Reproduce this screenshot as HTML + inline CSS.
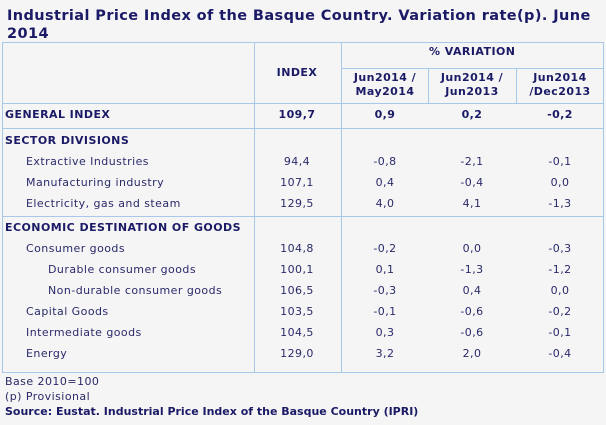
<!DOCTYPE html>
<html><head><meta charset="utf-8"><style>
body{margin:0;width:606px;height:425px;background:#f5f5f5;font-family:"DejaVu Sans","Liberation Sans",sans-serif;color:#2a2a6a;position:relative;overflow:hidden}
.t{position:absolute;font-size:11px;line-height:14px;white-space:nowrap;letter-spacing:0.45px}
.b{font-weight:bold;color:#1a1a66}
.c{text-align:center;width:86px;margin-left:-43px}
.hl{position:absolute;height:1px;background:#a8c8e8}
.vl{position:absolute;width:1px;background:#a8c8e8}
</style></head><body>
<div class="b" style="position:absolute;left:7px;top:7px;font-size:14.5px;letter-spacing:0.4px;line-height:18px;width:590px">Industrial Price Index of the Basque Country. Variation rate(p). June 2014</div>
<div style="position:absolute;left:2px;top:42px;width:600px;height:329px;border:1px solid #a8c8e8"></div>
<div class="vl" style="left:254px;top:43px;height:329px"></div>
<div class="vl" style="left:341px;top:43px;height:329px"></div>
<div class="vl" style="left:428px;top:68px;height:35px"></div>
<div class="vl" style="left:516px;top:68px;height:35px"></div>
<div class="hl" style="left:341px;top:68px;width:262px"></div>
<div class="hl" style="left:3px;top:103px;width:600px"></div>
<div class="hl" style="left:3px;top:128px;width:600px"></div>
<div class="hl" style="left:3px;top:216px;width:600px"></div>
<div id="rows"></div>
<div class="t" style="left:5px;top:375px">Base 2010=100</div>
<div class="t" style="left:5px;top:390px">(p) Provisional</div>
<div class="t b" style="left:5px;top:405px;letter-spacing:0">Source: Eustat. Industrial Price Index of the Basque Country (IPRI)</div>
<script>
const labels=["GENERAL INDEX","SECTOR DIVISIONS","Extractive Industries","Manufacturing industry","Electricity, gas and steam","ECONOMIC DESTINATION OF GOODS","Consumer goods","Durable consumer goods","Non-durable consumer goods","Capital Goods","Intermediate goods","Energy"];
const indent=[0,0,1,1,1,0,1,2,2,1,1,1];
const rowY=[115,141,162,183,204,228,249,270,291,312,333,354];
const indexVals=["109,7","","94,4","107,1","129,5","","104,8","100,1","106,5","103,5","104,5","129,0"];
const varMonth=["0,9","","-0,8","0,4","4,0","","-0,2","0,1","-0,3","-0,1","0,3","3,2"];
const varYear=["0,2","","-2,1","-0,4","4,1","","0,0","-1,3","0,4","-0,6","-0,6","2,0"];
const varDec=["-0,2","","-0,1","0,0","-1,3","","-0,3","-1,2","0,0","-0,2","-0,1","-0,4"];
const colX=[297,385,472,560];
const R=document.getElementById('rows');
function add(txt,x,y,cls,name){const d=document.createElement('div');d.className='t '+cls;d.style.left=x+'px';d.style.top=(y-7)+'px';d.textContent=txt;


R.appendChild(d);}
add("INDEX",colX[0],73,'b c','index-header');
add("% VARIATION",472,52,'b c','variation-header');
[["Jun2014 /","May2014"],["Jun2014 /","Jun2013"],["Jun2014","/Dec2013"]].forEach((h,i)=>{add(h[0],colX[i+1],78,'b c','variation-subheader');add(h[1],colX[i+1],92,'b c','variation-subheader');});
labels.forEach((l,i)=>{const bold=indent[i]===0;
add(l,bold?5:(indent[i]===1?26:48),rowY[i],bold?'b':'','row-label');
[indexVals,varMonth,varYear,varDec].forEach((arr,j)=>{if(arr[i])add(arr[i],colX[j],rowY[i],'c'+(i===0?' b':''),'cell-value');});});
</script>
</body></html>
